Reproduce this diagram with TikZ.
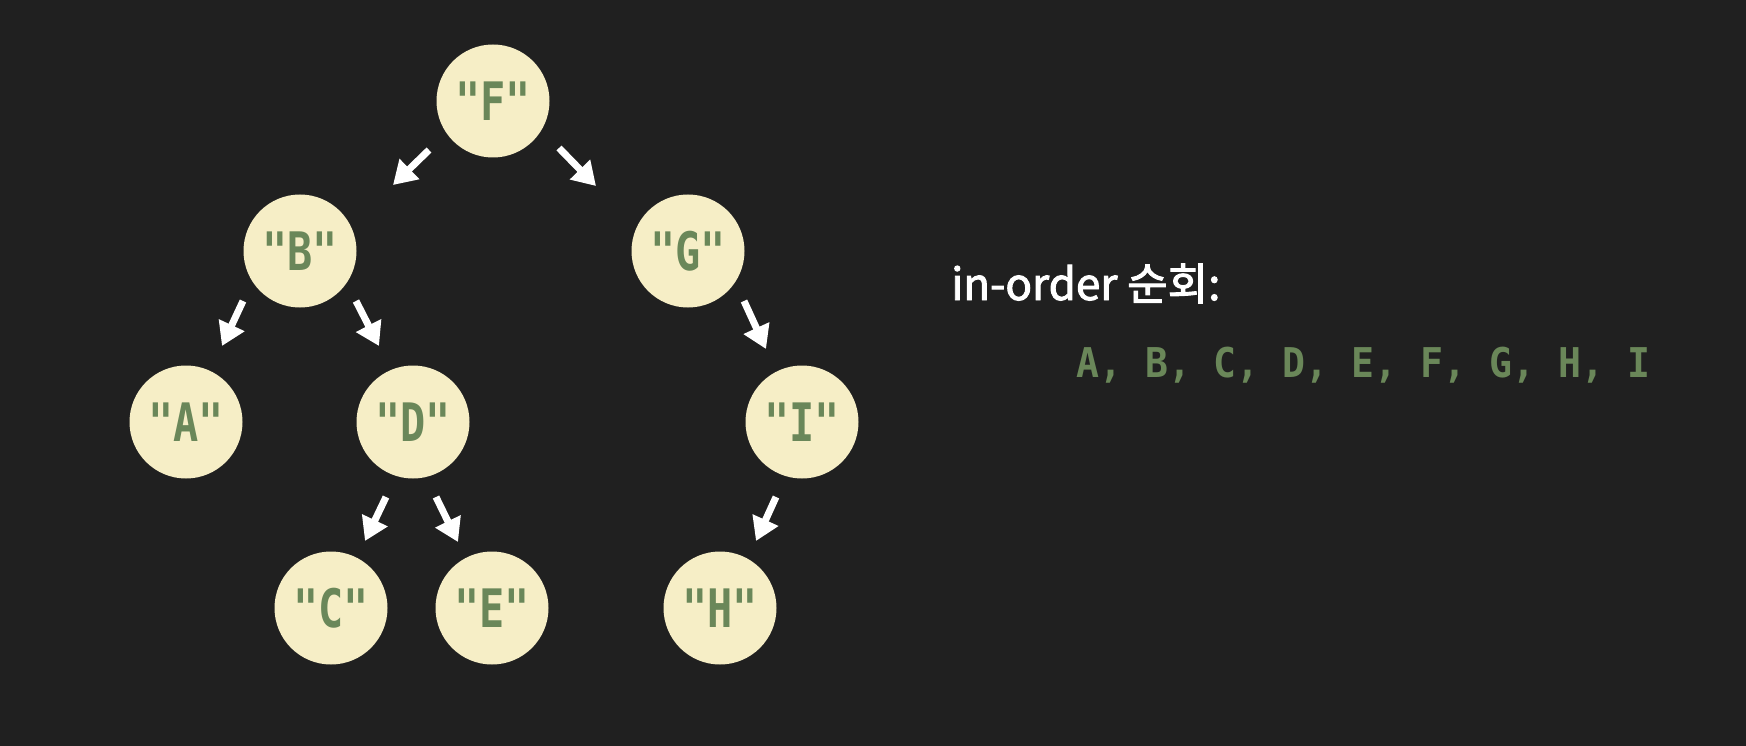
\documentclass[tikz,border=0pt]{standalone}
\usepackage{fontspec}
\usetikzlibrary{arrows.meta,calc}
\newfontfamily\codefont[FakeStretch=0.79]{DejaVu Sans Mono}
\newfontfamily\listfont[FakeStretch=0.93]{DejaVu Sans Mono}
\newfontfamily\krfont[FakeBold=2.2]{Noto Sans CJK KR}
\definecolor{bgc}{HTML}{202020}
\definecolor{nodefill}{HTML}{F6EEC6}
\definecolor{strgreen}{HTML}{6A8759}
\tikzset{
  treenode/.style={circle, fill=nodefill, minimum size=113pt, inner sep=0pt,
    text=strgreen, font=\codefont\bfseries\fontsize{53}{60}\selectfont},
  arr/.style={white, line width=7pt, -{Triangle[length=23pt,width=27pt]}},
}
\begin{document}
\begin{tikzpicture}[x=1pt,y=-1pt]
\fill[bgc] (0,0) rectangle (1746,746);
\useasboundingbox (0,0) rectangle (1746,746);
\node[treenode] (F) at (493,101) {"F"};
\node[treenode] (B) at (300,251) {"B"};
\node[treenode] (G) at (688,251) {"G"};
\node[treenode] (A) at (186,422) {"A"};
\node[treenode] (D) at (413,422) {"D"};
\node[treenode] (I) at (802,422) {"I"};
\node[treenode] (C) at (331,608) {"C"};
\node[treenode] (E) at (492,608) {"E"};
\node[treenode] (H) at (720,608) {"H"};
\draw[arr] ($(F)+(-64,49)$) -- ($(F)+(-100,84)$);
\draw[arr] ($(F)+(66,47)$) -- ($(F)+(103,85)$);
\draw[arr] ($(B)+(-57,50)$) -- ($(B)+(-78,95)$);
\draw[arr] ($(B)+(56,50)$) -- ($(B)+(79,95)$);
\draw[arr] ($(G)+(56,50)$) -- ($(G)+(78,98)$);
\draw[arr] ($(D)+(-27,75)$) -- ($(D)+(-48,119)$);
\draw[arr] ($(D)+(23,75)$) -- ($(D)+(45,120)$);
\draw[arr] ($(I)+(-26,75)$) -- ($(I)+(-46,119)$);
\node[anchor=base west, inner sep=0pt, text=white, font=\krfont\fontsize{44}{50}\selectfont] (title) at (951,300) {in-order 순회:};
\node[anchor=base west, inner sep=0pt, text=strgreen, font=\listfont\bfseries\fontsize{41}{48}\selectfont] (seq) at (1076,377) {A, B, C, D, E, F, G, H, I};
\end{tikzpicture}
\end{document}
